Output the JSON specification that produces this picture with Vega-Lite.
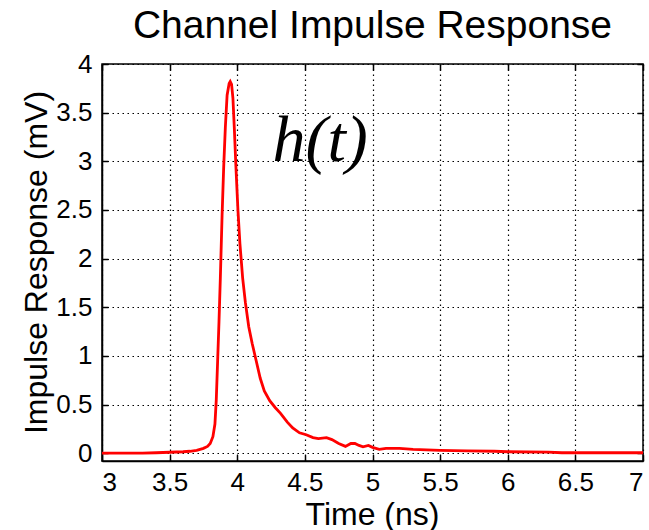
{
  "$schema": "https://vega.github.io/schema/vega-lite/v6.json",
  "width": 541,
  "height": 397,
  "autosize": "none",
  "padding": {"left": 102, "top": 64, "right": 6, "bottom": 69},
  "background": "white",
  "title": {
    "text": "Channel Impulse Response",
    "font": "Liberation Sans",
    "fontSize": 39,
    "fontWeight": "normal",
    "color": "black",
    "anchor": "middle",
    "frame": "group",
    "baseline": "alphabetic",
    "offset": -26
  },
  "config": {
    "view": {"stroke": "black", "strokeWidth": 1.5},
    "axis": {
      "labelFont": "Liberation Sans",
      "labelFontSize": 26,
      "labelColor": "black",
      "titleFont": "Liberation Sans",
      "titleFontSize": 32,
      "titleFontWeight": "normal",
      "titleColor": "black",
      "domainColor": "black",
      "domainWidth": 1.5,
      "tickColor": "black",
      "tickWidth": 1.5,
      "tickSize": -6,
      "gridColor": "black",
      "gridDash": [1.5, 3.5],
      "gridWidth": 1.2,
      "gridOpacity": 1
    }
  },
  "datasets": {
    "h": [
      {"t": 3.0, "v": 0},
      {"t": 3.3, "v": 0},
      {"t": 3.4, "v": 0.005},
      {"t": 3.5, "v": 0.01},
      {"t": 3.6, "v": 0.015},
      {"t": 3.65, "v": 0.02},
      {"t": 3.7, "v": 0.03},
      {"t": 3.75, "v": 0.05},
      {"t": 3.78, "v": 0.07},
      {"t": 3.8, "v": 0.1},
      {"t": 3.82, "v": 0.17},
      {"t": 3.835, "v": 0.3},
      {"t": 3.845, "v": 0.55},
      {"t": 3.855, "v": 0.95},
      {"t": 3.865, "v": 1.35},
      {"t": 3.875, "v": 1.8},
      {"t": 3.888, "v": 2.45},
      {"t": 3.9, "v": 2.95},
      {"t": 3.912, "v": 3.35},
      {"t": 3.925, "v": 3.68},
      {"t": 3.94, "v": 3.8},
      {"t": 3.948, "v": 3.82},
      {"t": 3.958, "v": 3.79},
      {"t": 3.968, "v": 3.65},
      {"t": 3.978, "v": 3.35},
      {"t": 3.99, "v": 2.95},
      {"t": 4.005, "v": 2.5},
      {"t": 4.02, "v": 2.15},
      {"t": 4.04, "v": 1.8},
      {"t": 4.06, "v": 1.55},
      {"t": 4.085, "v": 1.3},
      {"t": 4.11, "v": 1.13},
      {"t": 4.14, "v": 0.95},
      {"t": 4.17, "v": 0.77},
      {"t": 4.2, "v": 0.64},
      {"t": 4.24, "v": 0.54},
      {"t": 4.28, "v": 0.47},
      {"t": 4.32, "v": 0.41},
      {"t": 4.37, "v": 0.32},
      {"t": 4.41, "v": 0.26},
      {"t": 4.46, "v": 0.21},
      {"t": 4.51, "v": 0.19},
      {"t": 4.56, "v": 0.16},
      {"t": 4.6, "v": 0.15},
      {"t": 4.66, "v": 0.16},
      {"t": 4.7, "v": 0.14},
      {"t": 4.75, "v": 0.1},
      {"t": 4.8, "v": 0.07},
      {"t": 4.84, "v": 0.1},
      {"t": 4.87, "v": 0.1},
      {"t": 4.9, "v": 0.08},
      {"t": 4.93, "v": 0.065},
      {"t": 4.97, "v": 0.08},
      {"t": 5.0, "v": 0.06},
      {"t": 5.05, "v": 0.04},
      {"t": 5.1, "v": 0.05},
      {"t": 5.2, "v": 0.05},
      {"t": 5.3, "v": 0.04},
      {"t": 5.4, "v": 0.035},
      {"t": 5.5, "v": 0.03},
      {"t": 5.7, "v": 0.025},
      {"t": 5.9, "v": 0.02},
      {"t": 6.0, "v": 0.015},
      {"t": 6.3, "v": 0.012},
      {"t": 6.4, "v": 0.005},
      {"t": 7.0, "v": 0.005}
    ],
    "lab": [
      {"t": 4.26, "v": 3.0, "label": "h(t)"}
    ]
  },
  "layer": [
    {
      "data": {"name": "h"},
      "mark": {"type": "line", "color": "#ff0000", "strokeWidth": 2.8, "clip": true},
      "encoding": {
        "x": {
          "field": "t", "type": "quantitative",
          "scale": {"domain": [3, 7], "nice": false, "zero": false},
          "axis": {
            "title": "Time (ns)",
            "values": [3, 3.5, 4, 4.5, 5, 5.5, 6, 6.5, 7],
            "format": "~g",
            "labelPadding": 14,
            "titleX": 270,
            "titleY": 63,
            "titleBaseline": "alphabetic"
          }
        },
        "y": {
          "field": "v", "type": "quantitative",
          "scale": {"domain": [-0.08, 4], "nice": false, "zero": false},
          "axis": {
            "title": "Impulse Response (mV)",
            "values": [0, 0.5, 1, 1.5, 2, 2.5, 3, 3.5, 4],
            "format": "~g",
            "labelPadding": 16,
            "titleX": -56,
            "titleY": 198,
            "titleAngle": -90,
            "titleBaseline": "alphabetic"
          }
        }
      }
    },
    {
      "data": {"name": "lab"},
      "mark": {"type": "text", "font": "Liberation Serif", "fontStyle": "italic", "fontSize": 66, "align": "left", "baseline": "alphabetic", "color": "black"},
      "encoding": {
        "x": {
          "field": "t", "type": "quantitative",
          "axis": {"orient": "top", "labels": false, "grid": false, "domain": false, "title": null, "values": [3, 3.5, 4, 4.5, 5, 5.5, 6, 6.5, 7]}
        },
        "y": {
          "field": "v", "type": "quantitative",
          "axis": {"orient": "right", "labels": false, "grid": false, "domain": false, "title": null, "values": [0, 0.5, 1, 1.5, 2, 2.5, 3, 3.5, 4]}
        },
        "text": {"field": "label"}
      }
    }
  ],
  "resolve": {"axis": {"x": "independent", "y": "independent"}}
}
